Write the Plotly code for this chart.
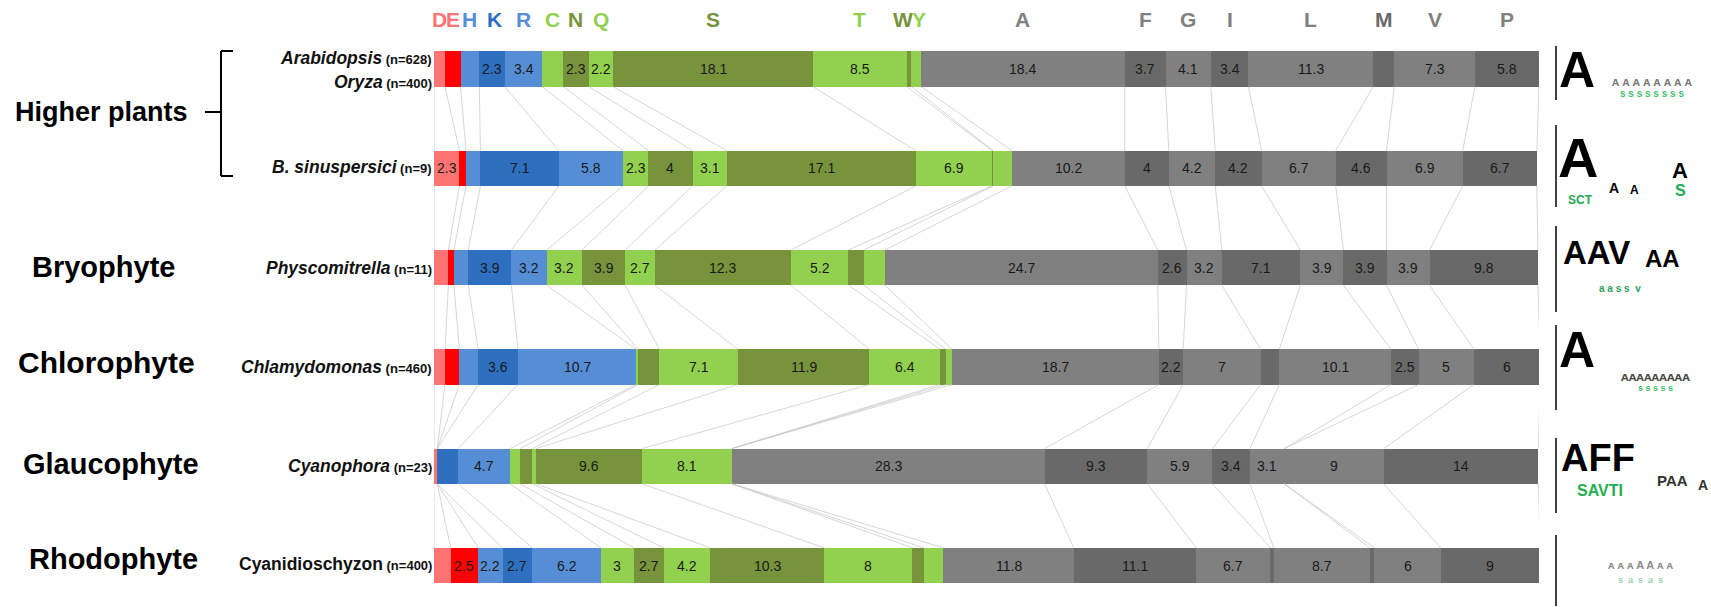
import plotly.graph_objects as go

# Amino-acid composition (%) per organism, in stacking order
residues = ["D", "E", "H", "K", "R", "C", "N", "Q", "S", "T", "W", "Y",
            "A", "F", "G", "I", "L", "M", "V", "P"]

arabidopsis_oryza = [1.0, 1.4, 1.7, 2.3, 3.4, 1.9, 2.3, 2.2, 18.1, 8.5, 0.4, 0.9,
                     18.4, 3.7, 4.1, 3.4, 11.3, 1.9, 7.3, 5.8]
b_sinuspersici = [2.3, 0.6, 1.3, 7.1, 5.8, 2.3, 4.0, 3.1, 17.1, 6.9, 0.1, 1.7,
                  10.2, 4.0, 4.2, 4.2, 6.7, 4.6, 6.9, 6.7]
physcomitrella = [1.3, 0.5, 1.3, 3.9, 3.2, 3.2, 3.9, 2.7, 12.3, 5.2, 1.4, 1.9,
                  24.7, 2.6, 3.2, 7.1, 3.9, 3.9, 3.9, 9.8]
chlamydomonas = [1.0, 1.3, 1.7, 3.6, 10.7, 0.2, 1.9, 7.1, 11.9, 6.4, 0.5, 0.6,
                 18.7, 2.2, 7.0, 1.7, 10.1, 2.5, 5.0, 6.0]
cyanophora = [0.3, 0.0, 0.0, 1.9, 4.7, 0.9, 1.1, 0.35, 9.6, 8.1, 0.0, 0.0,
              28.3, 9.3, 5.9, 3.4, 3.1, 0.0, 9.0, 14.0]
cyanidioschyzon = [1.5, 2.5, 2.2, 2.7, 6.2, 3.0, 2.7, 4.2, 10.3, 8.0, 1.0, 1.8,
                   11.8, 11.1, 6.7, 0.3, 8.7, 0.4, 6.0, 9.0]

rows = [arabidopsis_oryza, b_sinuspersici, physcomitrella,
        chlamydomonas, cyanophora, cyanidioschyzon]

species_names = [("Arabidopsis", "(n=628)"), ("Oryza", "(n=400)"),
                 ("B. sinuspersici", "(n=9)"), ("Physcomitrella", "(n=11)"),
                 ("Chlamydomonas", "(n=460)"), ("Cyanophora", "(n=23)"),
                 ("Cyanidioschyzon", "(n=400)")]
lineages = ["Higher plants", "Bryophyte", "Chlorophyte", "Glaucophyte", "Rhodophyte"]

residue_colors = {
    "D": "#ff7373", "E": "#ff0000", "H": "#558ed5", "K": "#2e6fbf", "R": "#558ed5",
    "C": "#92d050", "N": "#77933c", "Q": "#92d050", "S": "#77933c", "T": "#92d050",
    "W": "#77933c", "Y": "#92d050",
    "A": "#808080", "F": "#696969", "G": "#808080", "I": "#696969", "L": "#808080",
    "M": "#696969", "V": "#808080", "P": "#696969",
}
header_colors = dict(residue_colors)
header_colors.update({"E": "#ff7373", "F": "#808080", "I": "#808080",
                      "M": "#6a6a6a", "P": "#808080"})

# ---- page geometry (pixels) ----
W, H = 1711, 607
ML, MR, MT, MB = 434, 172, 0, 0
PW, PH = W - ML - MR, H - MT - MB
ROW0, ROWSTEP = 69.0, 99.3          # pixel centre of first row and row spacing
YMAX = ROW0 / ROWSTEP
YMIN = -(H - ROW0) / ROWSTEP
BAR_H = 0.355
FONT = "Liberation Sans, Arial, sans-serif"


def px(x):
    return (x - ML) / PW


def py(y):
    return 1 - (y - MT) / PH


ypos = [-i for i in range(len(rows))]

fig = go.Figure()

# connector lines between matching segment boundaries of neighbouring rows
cums = []
for r in rows:
    c = [0.0]
    for v in r:
        c.append(c[-1] + v)
    cums.append(c)

lx, ly = [], []
for i in range(len(rows) - 1):
    for k in range(len(residues) + 1):
        lx += [cums[i][k], cums[i + 1][k], None]
        ly += [ypos[i] - BAR_H / 2, ypos[i + 1] + BAR_H / 2, None]
fig.add_trace(go.Scatter(x=lx, y=ly, mode="lines", hoverinfo="skip",
                         line=dict(color="#c4c4c4", width=0.7), showlegend=False))

# stacked segments
for j, res in enumerate(residues):
    fig.add_trace(go.Bar(
        x=[r[j] for r in rows], y=ypos, orientation="h", width=BAR_H,
        marker=dict(color=residue_colors[res], line=dict(width=0)),
        name=res, showlegend=False, hoverinfo="x+name",
    ))

annotations = []


def text_at(x, y, text, size, color, xanchor="center", bold=False, **kw):
    annotations.append(dict(
        x=x, y=y, text=f"<b>{text}</b>" if bold else text, showarrow=False,
        xanchor=xanchor, yanchor="middle",
        font=dict(family=FONT, size=size, color=color), **kw))


# value labels inside the segments
for i, r in enumerate(rows):
    for j, v in enumerate(r):
        if v >= 2:
            text_at((cums[i][j] + cums[i][j + 1]) / 2, ypos[i], f"{v:g}", 14,
                    "#1a1a1a", xref="x", yref="y")

# residue headers above the first row
header_shift = {"W": -6, "Y": 3, "K": 2}
for j, res in enumerate(residues):
    text_at((cums[0][j] + cums[0][j + 1]) / 2, py(20), res, 21, header_colors[res],
            bold=True, xref="x", yref="paper", xshift=header_shift.get(res, 0))

# organism labels
species_y = [58, 82, 167, 268, 367, 466, 564]
for k, ((name, n), yy) in enumerate(zip(species_names, species_y)):
    shown = f"<i>{name}</i>" if k < 6 else name
    txt = f"<b>{shown}</b><b><span style='font-size:13px'> {n}</span></b>"
    text_at(px(434), py(yy), txt, 17.5, "#111111", xanchor="right",
            xref="paper", yref="paper")

# lineage labels
group_pos = [(101, 112, 27), (103, 267, 29), (106, 362, 30), (111, 464, 29),
             (114, 559, 29)]
for txt, (xx, yy, fs) in zip(lineages, group_pos):
    text_at(px(xx), py(yy), txt, fs, "#000000", bold=True, xref="paper", yref="paper")

# bracket grouping the higher plants
shapes = []
bracket = [(221, 51, 221, 176), (221, 51, 233, 51), (221, 176, 233, 176),
           (205, 112, 221, 112)]
for x0, y0, x1, y1 in bracket:
    shapes.append(dict(type="line", xref="paper", yref="paper",
                       x0=px(x0), y0=py(y0), x1=px(x1), y1=py(y1),
                       line=dict(color="#000000", width=2)))

# sequence-logo panels at the right edge: axis line plus stacked letters
logo_axes = [(46, 100), (125, 207), (226, 312), (325, 410), (438, 513), (535, 606)]
for y0, y1 in logo_axes:
    shapes.append(dict(type="line", xref="paper", yref="paper",
                       x0=px(1556), y0=py(y0), x1=px(1556), y1=py(y1),
                       line=dict(color="#000000", width=1.5)))

logo_glyphs = [
    # (letter, x px, y px, size, colour)
    ("A", 1577, 70, 50, "#000000"),
    ("ᴀ ᴀ ᴀ ᴀ ᴀ ᴀ ᴀ ᴀ", 1652, 82, 12, "#7a7a7a"),
    ("s s s s s s s s", 1652, 93, 10, "#3fbf6f"),
    ("A", 1578, 157, 56, "#000000"),
    ("A", 1614, 188, 14, "#000000"),
    ("A", 1634, 190, 12, "#000000"),
    ("A", 1680, 170, 22, "#000000"),
    ("S", 1680, 190, 16, "#22aa55"),
    ("SCT", 1580, 200, 12, "#22aa55"),
    ("AAV", 1596, 252, 33, "#000000"),
    ("AA", 1662, 258, 24, "#000000"),
    ("a a s s  v", 1620, 288, 10, "#2f9f5f"),
    ("A", 1577, 350, 50, "#000000"),
    ("ᴀᴀᴀᴀᴀᴀᴀᴀᴀ", 1655, 376, 13, "#4a4a4a"),
    ("s s s s s", 1655, 388, 9, "#3fbf6f"),
    ("AFF", 1598, 458, 38, "#000000"),
    ("SAVTI", 1600, 490, 16, "#1fae4f"),
    ("PAA", 1672, 480, 15, "#333333"),
    ("A", 1703, 485, 14, "#333333"),
    ("ᴀ ᴀ ᴀ A A ᴀ ᴀ", 1640, 565, 11, "#8a8a8a"),
    ("s  a  s  a  s", 1640, 580, 9, "#9fcfaf"),
]
for ch, xx, yy, size, col in logo_glyphs:
    text_at(px(xx), py(yy), ch, size, col, bold=True, xref="paper", yref="paper")

fig.update_layout(
    width=W, height=H, barmode="stack",
    margin=dict(l=ML, r=MR, t=MT, b=MB),
    paper_bgcolor="white", plot_bgcolor="white",
    xaxis=dict(range=[0, 100], visible=False, fixedrange=True),
    yaxis=dict(range=[YMIN, YMAX], visible=False, fixedrange=True),
    bargap=0, annotations=annotations, shapes=shapes,
)

fig.write_html("out.html", config={"displayModeBar": False})
